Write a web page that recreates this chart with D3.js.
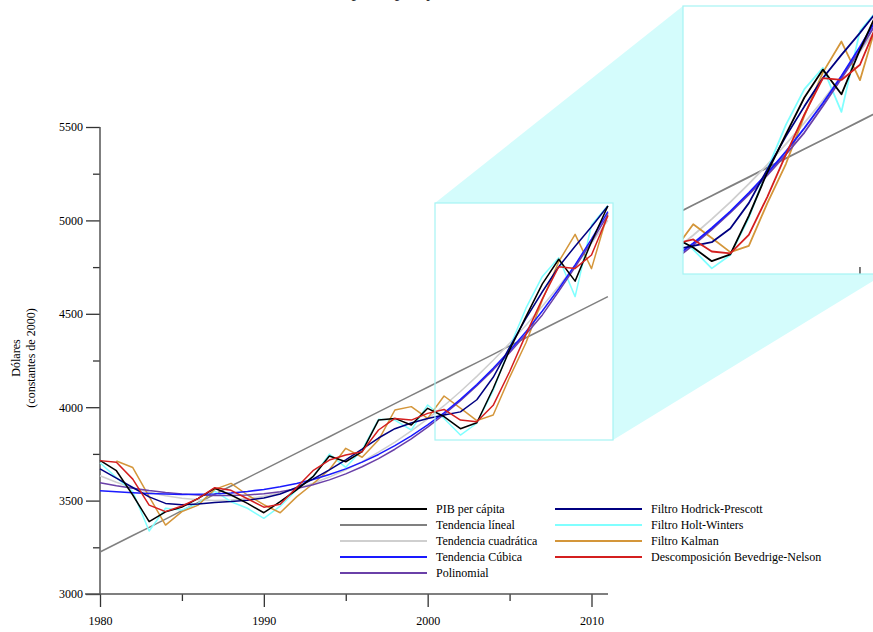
<!DOCTYPE html>
<html>
<head>
<meta charset="utf-8">
<script src="https://cdn.jsdelivr.net/npm/d3@7"></script>
<style>
body { margin: 0; background: #fff; }
text { font-family: "Liberation Serif", "Times New Roman", serif; }
</style>
</head>
<body>
<script>
// datos (dolares constantes de 2000)
var years = [1980,1981,1982,1983,1984,1985,1986,1987,1988,1989,1990,1991,1992,1993,1994,1995,
             1996,1997,1998,1999,2000,2001,2002,2003,2004,2005,2006,2007,2008,2009,2010,2011];
var pib = [3715,3660,3530,3387,3440,3465,3512,3566,3530,3485,3435,3494,3557,3628,3739,3708,
           3762,3931,3940,3905,3994,3950,3885,3917,4100,4306,4485,4660,4792,4675,4886,5077];
var tendLineal = [3225,3269,3313,3357,3401,3446,3490,3534,3578,3622,3666,3710,3754,3798,3842,3887,
                  3931,3975,4019,4063,4107,4151,4195,4239,4283,4328,4372,4416,4460,4504,4548,4592];
var tendCuad = [3633,3598,3569,3545,3526,3512,3504,3501,3503,3511,3523,3541,3564,3593,3626,3665,
                3709,3759,3813,3873,3938,4008,4084,4165,4251,4342,4439,4540,4647,4760,4877,5000];
var tendCubica = [3553,3547,3542,3538,3535,3533,3534,3536,3541,3549,3560,3574,3592,3613,3640,3670,
                  3706,3747,3794,3846,3905,3970,4042,4121,4208,4302,4404,4515,4634,4762,4900,5047];
var polinomial = [3596,3580,3566,3554,3544,3536,3530,3527,3527,3530,3537,3548,3564,3585,3611,3643,
                  3681,3725,3775,3831,3893,3961,4035,4115,4200,4292,4390,4494,4620,4750,4885,5030];
var hp = [3670,3620,3570,3520,3485,3478,3482,3490,3495,3502,3514,3535,3570,3615,3665,3718,
          3775,3835,3885,3915,3940,3958,3975,4040,4160,4320,4476,4618,4752,4862,4966,5077];
var holtWinters = [3703,3623,3548,3337,3459,3450,3485,3551,3494,3459,3405,3470,3557,3628,3749,3678,
                   3771,3935,3931,3878,4012,3940,3851,3914,4090,4320,4530,4700,4800,4592,4975,5080];
var kalman = [null,3712,3677,3521,3369,3441,3476,3560,3592,3530,3478,3435,3520,3590,3665,3780,
              3732,3824,3985,4003,3940,4060,3995,3928,3958,4160,4345,4574,4779,4925,4742,5040];
var bevNelson = [3714,3705,3615,3476,3441,3471,3512,3569,3555,3510,3465,3480,3570,3660,3717,3744,
                 3762,3878,3940,3931,3967,3988,3931,3922,4010,4190,4390,4580,4752,4743,4815,5025];

var yMajor = [3000,3500,4000,4500,5000,5500];
var yMinor = [3250,3750,4250,4750,5250];
var xMajor = [1980,1990,2000,2010];
var xMinor = [1985,1995,2005];

var series = [
    {name: "PIB per cápita", values: pib, color: "#000000"},
    {name: "Tendencia líneal", values: tendLineal, color: "#808080"},
    {name: "Tendencia cuadrática", values: tendCuad, color: "#cfcfcf"},
    {name: "Tendencia Cúbica", values: tendCubica, color: "#1a1aff"},
    {name: "Polinomial", values: polinomial, color: "#6a40a8"},
    {name: "Filtro Hodrick-Prescott", values: hp, color: "#000080"},
    {name: "Filtro Holt-Winters", values: holtWinters, color: "#80ffff"},
    {name: "Filtro Kalman", values: kalman, color: "#d4963a"},
    {name: "Descomposición Bevedrige-Nelson", values: bevNelson, color: "#d41f1f"}
];
// orden de dibujo (de abajo hacia arriba)
var drawOrder = [1, 2, 6, 7, 4, 3, 5, 0, 8];

var W = 873, H = 632;
var svg = d3.select("body").append("svg")
    .attr("width", W)
    .attr("height", H);

var x = d3.scaleLinear().domain([1980, 2010]).range([100, 591.5]);
var y = d3.scaleLinear().domain([3000, 5500]).range([594, 127]);

// recuadro del zoom en el grafico principal y panel ampliado
var box = {x0: 435, x1: 613, y0: 203, y1: 440};
var k = 268 / 237;
var mag = {x0: 683, y0: 6};
mag.x1 = mag.x0 + (box.x1 - box.x0) * k;
mag.y1 = mag.y0 + (box.y1 - box.y0) * k;

var xm = d3.scaleLinear().domain([x.invert(box.x0), x.invert(box.x1)]).range([mag.x0, mag.x1]);
var ym = d3.scaleLinear().domain([y.invert(box.y1), y.invert(box.y0)]).range([mag.y1, mag.y0]);

// titulo (cortado por el borde superior, como en el original)
svg.append("text")
    .attr("x", 483)
    .attr("y", -3)
    .attr("text-anchor", "middle")
    .style("font-size", "18px")
    .style("fill", "#333")
    .text("Guatemala: PIB per cápita y estimaciones de su tendencia, 1980-2011");

// zona celeste que une los dos recuadros
svg.append("polygon")
    .attr("points", [[box.x0, box.y1], [box.x0, box.y0], [mag.x0, mag.y0], [mag.x1, mag.y0],
                     [mag.x1, mag.y1], [box.x1, box.y1]].map(function (p) { return p.join(","); }).join(" "))
    .attr("fill", "#d4fcfc");
svg.append("rect")
    .attr("x", box.x0).attr("y", box.y0)
    .attr("width", box.x1 - box.x0).attr("height", box.y1 - box.y0)
    .attr("fill", "#fff");
svg.append("rect")
    .attr("x", mag.x0).attr("y", mag.y0)
    .attr("width", mag.x1 - mag.x0).attr("height", mag.y1 - mag.y0)
    .attr("fill", "#fff");

// ejes
var yAxis = d3.axisLeft(y).tickValues(yMajor).tickSize(14).tickSizeOuter(0).tickPadding(3)
    .tickFormat(d3.format("d"));
var yAxisMinor = d3.axisLeft(y).tickValues(yMinor).tickSize(7).tickSizeOuter(0).tickFormat("");
var xAxis = d3.axisBottom(x).tickValues(xMajor).tickSize(13).tickSizeOuter(0).tickPadding(9)
    .tickFormat(d3.format("d"));
var xAxisMinor = d3.axisBottom(x).tickValues(xMinor).tickSize(7).tickSizeOuter(0).tickFormat("");

function styleAxis(g) {
    g.select(".domain").remove();
    g.selectAll("line").attr("stroke", "#333").attr("stroke-width", 1.3);
    g.selectAll("text").style("font-size", "12px").style("font-family", "Liberation Serif, serif").attr("fill", "#000");
}

svg.append("g").attr("transform", "translate(100,0)").call(yAxis).call(styleAxis);
svg.append("g").attr("transform", "translate(100,0)").call(yAxisMinor).call(styleAxis);
svg.append("g").attr("transform", "translate(0,594)").call(xAxis).call(styleAxis);
svg.append("g").attr("transform", "translate(0,594)").call(xAxisMinor).call(styleAxis);

svg.append("line")//linea del eje y
    .attr("x1", 100).attr("x2", 100)
    .attr("y1", y(5500)).attr("y2", y(3000))
    .attr("stroke", "#555").attr("stroke-width", 1.5);
svg.append("line")//linea del eje x
    .attr("x1", 85).attr("x2", 608)
    .attr("y1", 594).attr("y2", 594)
    .attr("stroke", "#555").attr("stroke-width", 1.5);

svg.append("text")//titulo eje y
    .attr("transform", "translate(20,358) rotate(-90)")
    .attr("text-anchor", "middle")
    .style("font-size", "12px")
    .text("Dólares");
svg.append("text")
    .attr("transform", "translate(35,358) rotate(-90)")
    .attr("text-anchor", "middle")
    .style("font-size", "12px")
    .text("(constantes de 2000)");

// lineas del grafico principal
var line = d3.line()
    .defined(function (d) { return d.v != null; })
    .x(function (d) { return x(d.yr); })
    .y(function (d) { return y(d.v); });

function toPoints(s) {
    return years.map(function (yr, i) { return {yr: yr, v: s.values[i]}; });
}

var main = svg.append("g");
drawOrder.forEach(function (i) {
    main.append("path")
        .datum(toPoints(series[i]))
        .attr("d", line)
        .attr("fill", "none")
        .attr("stroke", series[i].color)
        .attr("stroke-width", 1.5)
        .attr("stroke-linejoin", "round");
});

// panel ampliado
svg.append("clipPath").attr("id", "magClip")
    .append("rect")
    .attr("x", mag.x0).attr("y", mag.y0)
    .attr("width", mag.x1 - mag.x0).attr("height", mag.y1 - mag.y0);

var lineMag = d3.line()
    .defined(function (d) { return d.v != null; })
    .x(function (d) { return xm(d.yr); })
    .y(function (d) { return ym(d.v); });

var magG = svg.append("g").attr("clip-path", "url(#magClip)");
drawOrder.forEach(function (i) {
    magG.append("path")
        .datum(toPoints(series[i]))
        .attr("d", lineMag)
        .attr("fill", "none")
        .attr("stroke", series[i].color)
        .attr("stroke-width", 1.8)
        .attr("stroke-linejoin", "round");
});
magG.append("line")//marca de 2010 en el panel ampliado
    .attr("x1", xm(2010)).attr("x2", xm(2010))
    .attr("y1", mag.y1).attr("y2", mag.y1 - 7)
    .attr("stroke", "#333").attr("stroke-width", 1.3);

// bordes celestes
svg.append("rect")
    .attr("x", box.x0).attr("y", box.y0)
    .attr("width", box.x1 - box.x0).attr("height", box.y1 - box.y0)
    .attr("fill", "none").attr("stroke", "#a6f4f4").attr("stroke-width", 1.2);
svg.append("rect")
    .attr("x", mag.x0).attr("y", mag.y0)
    .attr("width", mag.x1 - mag.x0).attr("height", mag.y1 - mag.y0)
    .attr("fill", "none").attr("stroke", "#a6f4f4").attr("stroke-width", 1.2);

// leyenda
var legend = svg.append("g");
series.forEach(function (s, i) {
    var col = i < 5 ? 0 : 1;
    var row = i < 5 ? i : i - 5;
    var lx = col == 0 ? 340 : 555;
    var ly = 509 + row * 16;
    legend.append("line")
        .attr("x1", lx).attr("x2", lx + 87)
        .attr("y1", ly).attr("y2", ly)
        .attr("stroke", s.color).attr("stroke-width", 2);
    legend.append("text")
        .attr("x", lx + 96)
        .attr("y", ly + 4)
        .style("font-size", "12px")
        .text(s.name);
});
</script>
</body>
</html>
